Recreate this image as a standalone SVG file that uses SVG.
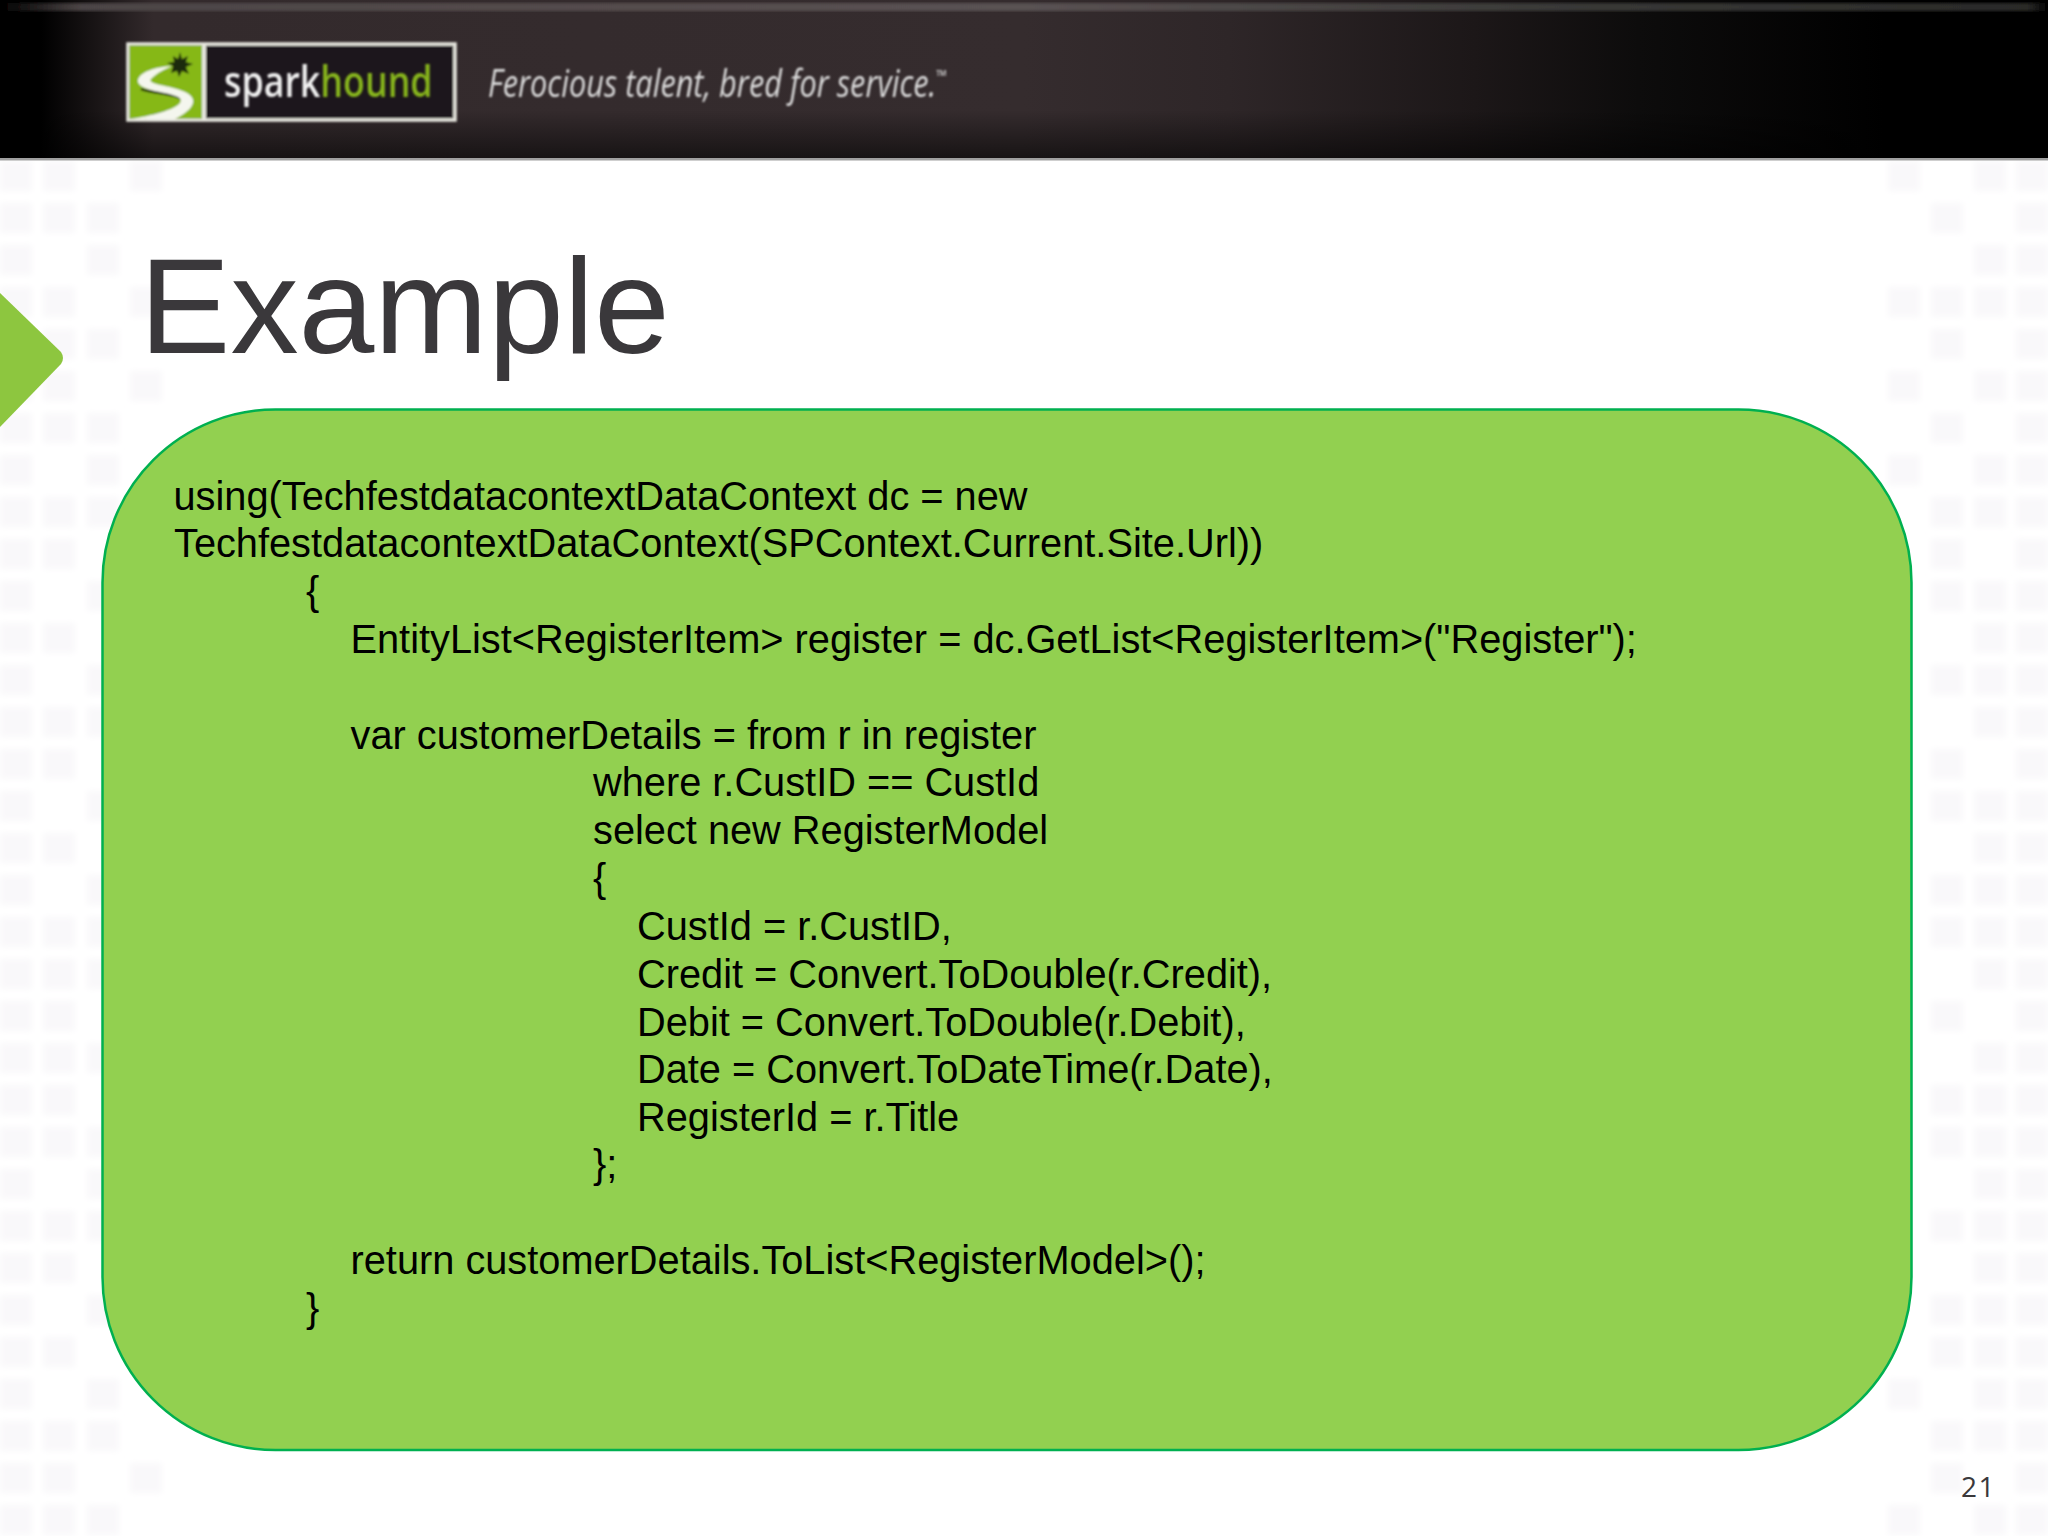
<svg xmlns="http://www.w3.org/2000/svg" width="2048" height="1536" viewBox="0 0 2048 1536">
<style>
.code{font-family:"Liberation Sans",Arial,sans-serif;font-size:39.75px;fill:#000}
.sq{fill:#f9f8fa}
.col{fill:none;stroke:#f9f8fa;stroke-width:32;stroke-dasharray:30 12}
</style>
<defs>
<linearGradient id="hdr" x1="0" x2="1" y1="0" y2="0">
<stop offset="0" stop-color="#000"/><stop offset="0.02" stop-color="#000"/><stop offset="0.075" stop-color="#332a2c"/><stop offset="0.5" stop-color="#352c2e"/><stop offset="0.6" stop-color="#2e2628"/><stop offset="0.72" stop-color="#1c1718"/><stop offset="0.8" stop-color="#0d0c0c"/><stop offset="0.92" stop-color="#000"/><stop offset="1" stop-color="#000"/>
</linearGradient>
<linearGradient id="hdrBot" x1="0" x2="0" y1="0" y2="1">
<stop offset="0" stop-color="#000" stop-opacity="0"/><stop offset="1" stop-color="#000" stop-opacity="0.55"/>
</linearGradient>
<linearGradient id="hl" x1="0" x2="1" y1="0" y2="0">
<stop offset="0" stop-color="#000"/><stop offset="0.04" stop-color="#4c4546"/><stop offset="0.5" stop-color="#5a5253"/><stop offset="0.75" stop-color="#3a3a38"/><stop offset="0.99" stop-color="#2a2a28"/><stop offset="1" stop-color="#000"/>
</linearGradient>
<filter id="b2" x="-2%" y="-2%" width="104%" height="104%"><feGaussianBlur stdDeviation="3"/></filter>
<filter id="b1"><feGaussianBlur stdDeviation="0.9"/></filter>
<filter id="h"><feGaussianBlur stdDeviation="0 1.5"/></filter>
</defs>
<rect width="2048" height="1536" fill="#fff"/>
<g id="background-grid" filter="url(#b2)">
<path class="col" d="M16 161V1536"/>
<path class="col" d="M2032 161V1536"/>
<path class="sq" d="M43 161h32v30h-32zM43 203h32v30h-32zM43 287h32v30h-32zM43 329h32v30h-32zM43 371h32v30h-32zM43 413h32v30h-32zM43 497h32v30h-32zM43 539h32v30h-32zM43 623h32v30h-32zM43 707h32v30h-32zM43 749h32v30h-32zM43 833h32v30h-32zM43 917h32v30h-32zM43 959h32v30h-32zM43 1001h32v30h-32zM43 1043h32v30h-32zM43 1085h32v30h-32zM43 1127h32v30h-32zM43 1211h32v30h-32zM43 1253h32v30h-32zM43 1337h32v30h-32zM43 1421h32v30h-32zM43 1463h32v30h-32zM43 1505h32v30h-32z"/>
<path class="sq" d="M87 203h32v30h-32zM87 245h32v30h-32zM87 329h32v30h-32zM87 413h32v30h-32zM87 455h32v30h-32zM87 497h32v30h-32zM87 581h32v30h-32zM87 665h32v30h-32zM87 707h32v30h-32zM87 791h32v30h-32zM87 875h32v30h-32zM87 917h32v30h-32zM87 959h32v30h-32zM87 1043h32v30h-32zM87 1127h32v30h-32zM87 1169h32v30h-32zM87 1211h32v30h-32zM87 1295h32v30h-32zM87 1379h32v30h-32zM87 1421h32v30h-32zM87 1505h32v30h-32z"/>
<path class="sq" d="M130 161h32v30h-32zM130 287h32v30h-32zM130 371h32v30h-32zM130 1463h32v30h-32z"/>
<path class="sq" d="M1888 161h32v30h-32zM1888 287h32v30h-32zM1888 371h32v30h-32zM1888 455h32v30h-32zM1888 1379h32v30h-32zM1888 1505h32v30h-32z"/>
<path class="sq" d="M1931 203h32v30h-32zM1931 287h32v30h-32zM1931 329h32v30h-32zM1931 413h32v30h-32zM1931 497h32v30h-32zM1931 539h32v30h-32zM1931 581h32v30h-32zM1931 665h32v30h-32zM1931 749h32v30h-32zM1931 791h32v30h-32zM1931 875h32v30h-32zM1931 917h32v30h-32zM1931 1001h32v30h-32zM1931 1085h32v30h-32zM1931 1127h32v30h-32zM1931 1211h32v30h-32zM1931 1295h32v30h-32zM1931 1337h32v30h-32zM1931 1421h32v30h-32zM1931 1463h32v30h-32z"/>
<path class="sq" d="M1974 161h32v30h-32zM1974 245h32v30h-32zM1974 287h32v30h-32zM1974 371h32v30h-32zM1974 455h32v30h-32zM1974 497h32v30h-32zM1974 581h32v30h-32zM1974 623h32v30h-32zM1974 665h32v30h-32zM1974 707h32v30h-32zM1974 791h32v30h-32zM1974 833h32v30h-32zM1974 875h32v30h-32zM1974 917h32v30h-32zM1974 959h32v30h-32zM1974 1043h32v30h-32zM1974 1085h32v30h-32zM1974 1127h32v30h-32zM1974 1169h32v30h-32zM1974 1211h32v30h-32zM1974 1253h32v30h-32zM1974 1295h32v30h-32zM1974 1337h32v30h-32zM1974 1379h32v30h-32zM1974 1421h32v30h-32zM1974 1505h32v30h-32z"/>
</g>
<g id="header">
<rect width="2048" height="158" fill="url(#hdr)"/>
<rect y="110" width="2048" height="48" fill="url(#hdrBot)"/>
<rect y="3" width="2048" height="8" fill="url(#hl)" filter="url(#h)"/>
<rect y="158" width="2048" height="2.500" fill="#a0a0a0"/>
</g>
<g id="logo">
<g filter="url(#b1)">
<rect x="128" y="44" width="327" height="76" fill="#1d191a" stroke="#e6e6de" stroke-width="3.500"/>
<rect x="129.500" y="45.500" width="73" height="73" fill="#86b818"/>
<rect x="202" y="44" width="4" height="76" fill="#e6e6de"/>
<path d="M180 52l2 7 6-3-2 6 7 2-7 3 3 7-7-3-3 6-2-6-6 2 2-7-6-3 7-1-1-6 5 3z" fill="#1d2a0c"/>
<path d="M141 89C155 94 185 94 184 103C180 110 160 114 145 118" fill="none" stroke="#2b3a0e" stroke-width="2.500"/>
<path d="M172 66C155 67 140 72 138 80C137 87 150 90 165 93C178 96 183 98 180 103C175 110 150 116 131 119L175 119C188 112 194 106 193 100C192 92 175 88 160 85C152 83 148 81 152 78C157 73 165 69 172 66Z" fill="#f4f6ee"/>
</g>
<g filter="url(#b1)">
<text transform="translate(224 97) scale(.832 1)" font-family="'Open Sans',sans-serif" font-weight="600" font-size="43" fill="#f0f0f0">spark<tspan fill="#86b41c">hound</tspan></text>
<text transform="translate(488 97) scale(.808 1)" font-family="'Open Sans',sans-serif" font-style="italic" font-size="38" fill="#dcdcdc">Ferocious talent, bred for service.<tspan font-size="17" font-style="normal" dy="-15">™</tspan></text>
</g>
</g>
<g id="title-marker"><path d="M0 293L61 352Q65 358 61 364L0 427Z" fill="#8dc63f"/></g>
<g id="title"><text x="139.500" y="353" font-family="'Liberation Sans',Arial,sans-serif" font-size="136.300" fill="#3a383b">Example</text></g>
<g id="code-box">
<rect x="102.500" y="409.500" width="1809" height="1040.500" rx="173" ry="173" fill="#92d050" stroke="#00b050" stroke-width="2.500"/>
<text class="code" x="173.500" y="509.500">using(TechfestdatacontextDataContext dc = new</text>
<text class="code" x="174" y="557">TechfestdatacontextDataContext(SPContext.Current.Site.Url))</text>
<text class="code" x="306" y="605">{</text>
<text class="code" x="350.500" y="652.500">EntityList&lt;RegisterItem&gt; register = dc.GetList&lt;RegisterItem&gt;("Register");</text>
<text class="code" x="350.500" y="748.500">var customerDetails = from r in register</text>
<text class="code" x="593" y="796">where r.CustID == CustId</text>
<text class="code" x="593" y="844">select new RegisterModel</text>
<text class="code" x="593" y="892">{</text>
<text class="code" x="637" y="939.500">CustId = r.CustID,</text>
<text class="code" x="637" y="987.500">Credit = Convert.ToDouble(r.Credit),</text>
<text class="code" x="637" y="1035.500">Debit = Convert.ToDouble(r.Debit),</text>
<text class="code" x="637" y="1082.500">Date = Convert.ToDateTime(r.Date),</text>
<text class="code" x="637" y="1130.500">RegisterId = r.Title</text>
<text class="code" x="593" y="1178">};</text>
<text class="code" x="350.500" y="1274">return customerDetails.ToList&lt;RegisterModel&gt;();</text>
<text class="code" x="306" y="1322">}</text>
</g>
<g id="page-number"><text x="1961" y="1497" font-family="'Open Sans',sans-serif" font-size="28" letter-spacing="1.500" fill="#3a383b">21</text></g>
</svg>
